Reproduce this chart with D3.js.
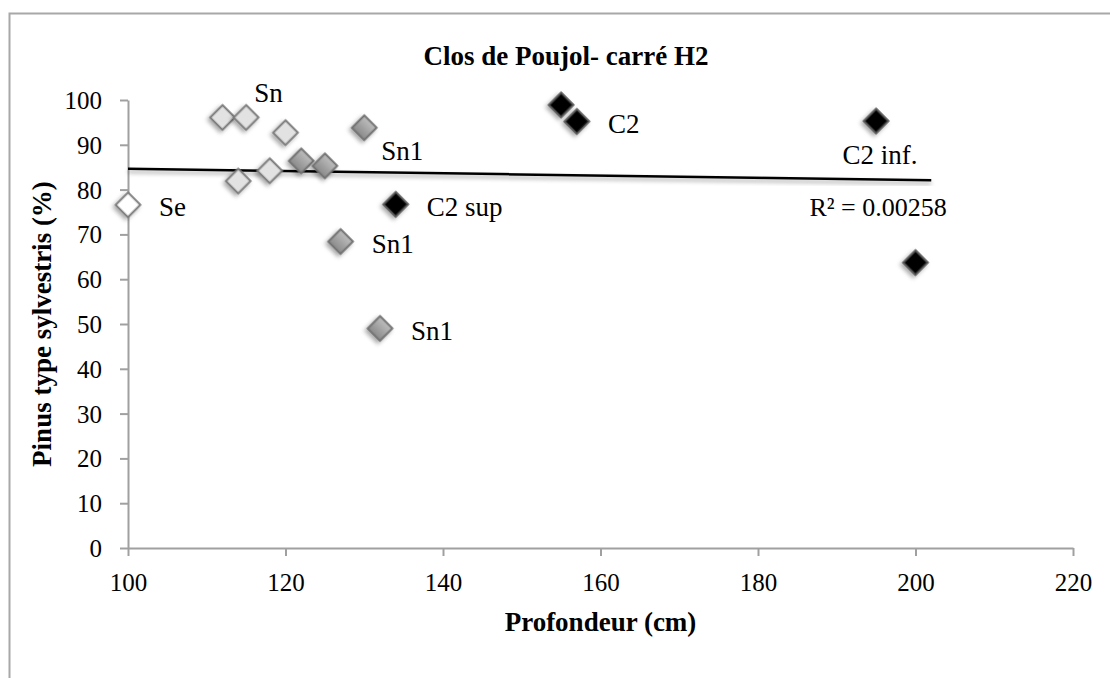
<!DOCTYPE html>
<html>
<head>
<meta charset="utf-8">
<script src="https://cdn.jsdelivr.net/npm/d3@7"></script>
<style>
    html, body { margin: 0; padding: 0; background: #fff; }
    svg { display: block; font-family: "Liberation Serif", "Times New Roman", serif; }
</style>
</head>
<body>
<svg id="chart" width="1110" height="678"></svg>
<script>
// data
const depth = [100, 112, 115, 120, 114, 118, 122, 125, 130, 127, 132, 134, 155, 157, 195, 200];
const pinus = [76.6, 96.1, 96.1, 92.7, 81.9, 84.2, 86.4, 85.3, 93.8, 68.4, 49.0, 76.7, 98.9, 95.2, 95.3, 63.7];
const group = ["Se", "Sn", "Sn", "Sn", "Sn", "Sn", "Sn1", "Sn1", "Sn1", "Sn1", "Sn1", "C2", "C2", "C2", "C2", "C2"];
const pointLabels = ["Se", "", "Sn", "", "", "", "", "", "Sn1", "Sn1", "Sn1", "C2 sup", "", "C2", "C2 inf.", ""];
const xTicks = [100, 120, 140, 160, 180, 200, 220];
const yTicks = [0, 10, 20, 30, 40, 50, 60, 70, 80, 90, 100];
const title = "Clos de Poujol- carré H2";
const xTitle = "Profondeur (cm)";
const yTitle = "Pinus type sylvestris (%)";
const r2Text = "R² = 0.00258";
const trendForward = 2;

const svg = d3.select("#chart");

const
    x = d3.scaleLinear().domain([100, 220]).range([128, 1073]),
    y = d3.scaleLinear().domain([0, 100]).range([548, 100]);

// frame of the chart area (cut off at right and bottom)
svg.append("rect")
    .attr("x", 9.5).attr("y", 13.5)
    .attr("width", 1200).attr("height", 700)
    .attr("fill", "none")
    .attr("stroke", "#a8a8a8")
    .attr("stroke-width", 2);

const defs = svg.append("defs");

defs.append("filter")
    .attr("id", "shadow")
    .attr("x", "-50%").attr("y", "-50%")
    .attr("width", "200%").attr("height", "200%")
    .append("feDropShadow")
    .attr("dx", 0).attr("dy", 3)
    .attr("stdDeviation", 2)
    .attr("flood-color", "#000")
    .attr("flood-opacity", 0.35);

const grad = defs.append("linearGradient")
    .attr("id", "midGrey")
    .attr("x1", 0).attr("y1", 0).attr("x2", 0).attr("y2", 1);
grad.append("stop").attr("offset", "0%").attr("stop-color", "#bdbdbd");
grad.append("stop").attr("offset", "100%").attr("stop-color", "#8a8a8a");

const style = {
    "Se": { fill: "#ffffff", stroke: "#7a7a7a" },
    "Sn": { fill: "#e2e2e2", stroke: "#7a7a7a" },
    "Sn1": { fill: "url(#midGrey)", stroke: "#717171" },
    "C2": { fill: "#000000", stroke: "#555555" }
};

// axes
const xAxis = svg.append("g")
    .attr("transform", `translate(0,${y(0)})`)
    .call(d3.axisBottom(x).tickValues(xTicks).tickSize(8).tickSizeOuter(0).tickPadding(0));

const yAxis = svg.append("g")
    .attr("transform", `translate(${x(100)},0)`)
    .call(d3.axisLeft(y).tickValues(yTicks).tickSize(8).tickSizeOuter(0).tickPadding(0));

[xAxis, yAxis].forEach(g => {
    g.select(".domain").attr("stroke", "#a0a0a0").attr("stroke-width", 2);
    g.selectAll(".tick line").attr("stroke", "#a0a0a0").attr("stroke-width", 2);
    g.selectAll(".tick text")
        .attr("fill", "#000")
        .style("font-size", "25px")
        .style("font-family", "'Liberation Serif', serif");
});
xAxis.selectAll(".tick text").attr("y", 43).attr("dy", null);
yAxis.selectAll(".tick text").attr("x", -26).attr("dy", "0.34em");

// linear trendline (least squares)
const
    mx = d3.mean(depth),
    my = d3.mean(pinus),
    sxy = d3.sum(depth, (d, i) => (d - mx) * (pinus[i] - my)),
    sxx = d3.sum(depth, d => (d - mx) * (d - mx)),
    slope = sxy / sxx,
    icpt = my - slope * mx,
    trend = v => icpt + slope * v,
    tx = [d3.min(depth), d3.max(depth) + trendForward];

svg.append("path")
    .datum(tx)
    .attr("d", d3.line().x(d => x(d)).y(d => y(trend(d))))
    .attr("stroke", "#000")
    .attr("stroke-width", 2.5)
    .attr("fill", "none")
    .attr("filter", "url(#shadow)");

// markers
const diamond = d3.symbol(d3.symbolSquare, 300);
svg.append("g")
    .selectAll("path")
    .data(depth)
    .join("path")
    .attr("d", diamond)
    .attr("transform", (d, i) => `translate(${x(d)},${y(pinus[i])}) rotate(45)`)
    .attr("fill", (d, i) => style[group[i]].fill)
    .attr("stroke", (d, i) => style[group[i]].stroke)
    .attr("stroke-width", 2)
    .attr("filter", "url(#shadow)");

// data labels, most sit to the right of their point
const place = {
    2: { dx: 8, dy: -15, anchor: "start" },
    8: { dx: 17, dy: 32, anchor: "start" },
    14: { dx: 4, dy: 43, anchor: "middle" }
};
svg.append("g")
    .selectAll("text")
    .data(depth.map((d, i) => i).filter(i => pointLabels[i]))
    .join("text")
    .attr("x", i => x(depth[i]) + (place[i] ? place[i].dx : 31))
    .attr("y", i => y(pinus[i]) + (place[i] ? place[i].dy : 11.5))
    .attr("text-anchor", i => place[i] ? place[i].anchor : "start")
    .style("font-size", "27px")
    .text(i => pointLabels[i]);

svg.append("text")
    .attr("x", x(195) + 2)
    .attr("y", y(trend(195)) + 37)
    .attr("text-anchor", "middle")
    .style("font-size", "26px")
    .text(r2Text);

// titles
svg.append("text")
    .attr("x", 566).attr("y", 65)
    .attr("text-anchor", "middle")
    .style("font-size", "27px")
    .style("font-weight", "bold")
    .text(title);

svg.append("text")
    .attr("x", (x(100) + x(220)) / 2).attr("y", 631)
    .attr("text-anchor", "middle")
    .style("font-size", "27px")
    .style("font-weight", "bold")
    .text(xTitle);

svg.append("text")
    .attr("transform", `translate(51,${(y(0) + y(100)) / 2}) rotate(-90)`)
    .attr("text-anchor", "middle")
    .style("font-size", "27px")
    .style("font-weight", "bold")
    .text(yTitle);
</script>
</body>
</html>
